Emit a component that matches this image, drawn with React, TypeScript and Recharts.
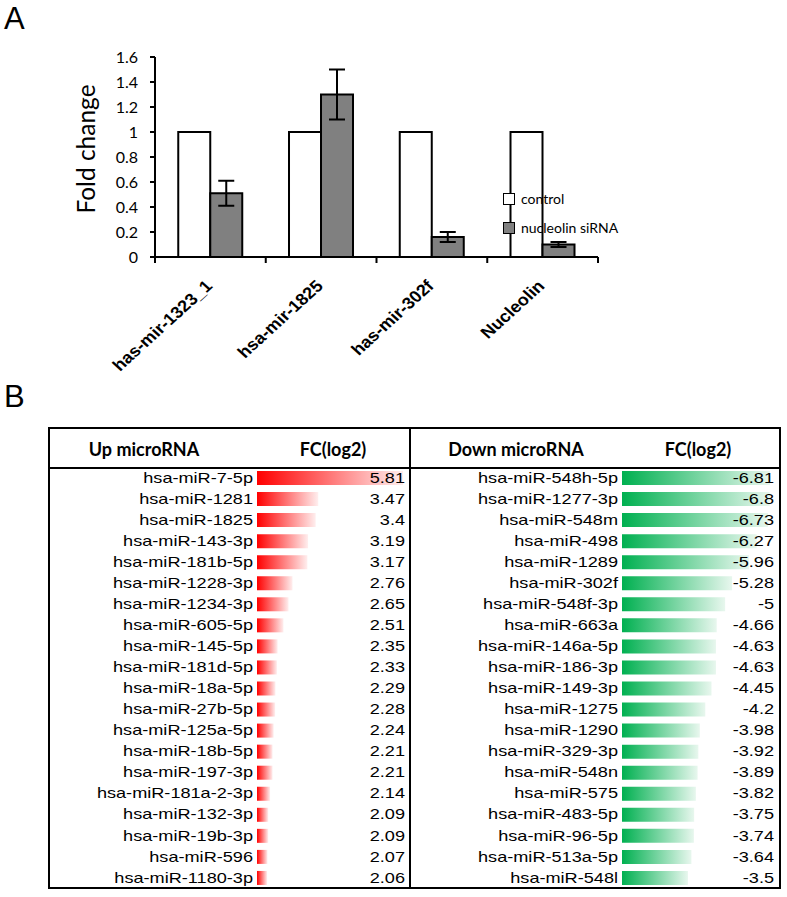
import React from 'react';
import { BarChart, Bar, XAxis, YAxis, ErrorBar, Legend } from 'recharts';

// Panel A: fold change after nucleolin knock-down
const genes = ['has-mir-1323_1', 'hsa-mir-1825', 'has-mir-302f', 'Nucleolin'];
const controlFold = [1, 1, 1, 1];
const sirnaFold = [0.51, 1.3, 0.16, 0.1];
const sirnaErr = [0.1, 0.2, 0.04, 0.02];
const foldTicks = [0, 0.2, 0.4, 0.6, 0.8, 1, 1.2, 1.4, 1.6];

// Panel B: up / down regulated microRNAs, FC(log2)
const upNames = [
  'hsa-miR-7-5p', 'hsa-miR-1281', 'hsa-miR-1825', 'hsa-miR-143-3p', 'hsa-miR-181b-5p',
  'hsa-miR-1228-3p', 'hsa-miR-1234-3p', 'hsa-miR-605-5p', 'hsa-miR-145-5p', 'hsa-miR-181d-5p',
  'hsa-miR-18a-5p', 'hsa-miR-27b-5p', 'hsa-miR-125a-5p', 'hsa-miR-18b-5p', 'hsa-miR-197-3p',
  'hsa-miR-181a-2-3p', 'hsa-miR-132-3p', 'hsa-miR-19b-3p', 'hsa-miR-596', 'hsa-miR-1180-3p',
];
const upFc = [5.81, 3.47, 3.4, 3.19, 3.17, 2.76, 2.65, 2.51, 2.35, 2.33, 2.29, 2.28, 2.24, 2.21, 2.21, 2.14, 2.09, 2.09, 2.07, 2.06];

const downNames = [
  'hsa-miR-548h-5p', 'hsa-miR-1277-3p', 'hsa-miR-548m', 'hsa-miR-498', 'hsa-miR-1289',
  'hsa-miR-302f', 'hsa-miR-548f-3p', 'hsa-miR-663a', 'hsa-miR-146a-5p', 'hsa-miR-186-3p',
  'hsa-miR-149-3p', 'hsa-miR-1275', 'hsa-miR-1290', 'hsa-miR-329-3p', 'hsa-miR-548n',
  'hsa-miR-575', 'hsa-miR-483-5p', 'hsa-miR-96-5p', 'hsa-miR-513a-5p', 'hsa-miR-548l',
];
const downFc = [-6.81, -6.8, -6.73, -6.27, -5.96, -5.28, -5, -4.66, -4.63, -4.63, -4.45, -4.2, -3.98, -3.92, -3.89, -3.82, -3.75, -3.74, -3.64, -3.5];

const foldData = genes.map((g, i) => ({ gene: g, control: controlFold[i], sirna: sirnaFold[i], err: sirnaErr[i] }));
const upData = upNames.map((n, i) => ({ name: n, fc: upFc[i] }));
const downData = downNames.map((n, i) => ({ name: n, fc: downFc[i] }));

const ARIAL = '"Liberation Sans", Arial, sans-serif';
const CALIBRI = 'Lato, "Open Sans", sans-serif';
const STRETCH = 1.25; // the source figure is a bit wider than tall
const legendFill: Record<string, string> = { control: '#ffffff', 'nucleolin siRNA': '#808080' };

// category label + boundary tick marks (Excel style)
const GeneTick = (props: any) => {
  const { x, y, payload, index } = props;
  const half = payload?.offset ?? 0;
  const tx = x + 3;
  const ty = y + 24;
  return (
    <g>
      <line x1={x + half} x2={x + half} y1={y - 6} y2={y} stroke="#000" strokeWidth={2} />
      {index === 0 && <line x1={x - half} x2={x - half} y1={y - 6} y2={y} stroke="#000" strokeWidth={2} />}
      <text transform={`translate(${tx},${ty}) scale(1.1,1) rotate(-45)`} textAnchor="end"
        fontFamily={ARIAL} fontWeight="bold" fontSize={16.5} fill="#000">
        {payload.value}
      </text>
    </g>
  );
};

const FoldLabel = (props: any) => {
  const { viewBox } = props;
  const cx = viewBox.x - 15;
  const cy = viewBox.y + viewBox.height / 2 - 8;
  return (
    <text x={cx} y={cy} transform={`rotate(-90 ${cx} ${cy})`} textAnchor="middle" dominantBaseline="central"
      fontFamily={CALIBRI} fontSize={24.5} fill="#000">
      Fold change
    </text>
  );
};

const LegendBox = (props: any) => (
  <div style={{ fontFamily: CALIBRI, fontSize: 14, color: '#000' }}>
    {(props.payload || []).map((p: any) => (
      <div key={p.value} style={{ display: 'flex', alignItems: 'center', height: 29 }}>
        <span style={{ display: 'inline-block', width: 12, height: 12, boxSizing: 'border-box', border: '1.5px solid #000', background: legendFill[p.value], marginRight: 6 }} />
        <span>{p.value}</span>
      </div>
    ))}
  </div>
);

const NameTick = (props: any) => {
  const { x, y, payload } = props;
  return (
    <text transform={`translate(${x},${y}) scale(${STRETCH},1)`} textAnchor="end" dy="0.355em"
      fontFamily={ARIAL} fontSize={14.5} fill="#000">
      {payload.value}
    </text>
  );
};

const makeValueTick = (names: string[], values: number[]) => (props: any) => {
  const { x, y, payload } = props;
  const v = values[names.indexOf(payload.value)];
  return (
    <text transform={`translate(${x + 2},${y}) scale(${STRETCH},1)`} textAnchor="end" dy="0.355em"
      fontFamily={ARIAL} fontSize={14.5} fill="#000">
      {String(v)}
    </text>
  );
};
const UpValueTick = makeValueTick(upNames, upFc);
const DownValueTick = makeValueTick(downNames, downFc);

const headerStyle: React.CSSProperties = {
  position: 'absolute', width: 200, textAlign: 'center', fontFamily: CALIBRI,
  fontWeight: 'bold', fontSize: 18, color: '#000', lineHeight: '20px',
};

export default function App() {
  return (
    <div style={{ position: 'absolute', left: 0, top: 0, width: 787, height: 897, background: '#fff' }}>
      <svg width={60} height={420} style={{ position: 'absolute', left: 0, top: 0 }}>
        <text x={4} y={29} fontFamily={ARIAL} fontSize={31} fill="#000">A</text>
        <text x={4} y={407} fontFamily={ARIAL} fontSize={31} fill="#000">B</text>
      </svg>

      <div style={{ position: 'absolute', left: 0, top: 0 }}>
        <BarChart width={640} height={390} data={foldData}
          margin={{ top: 57, right: 42, left: 100, bottom: 23 }} barCategoryGap="21%" barGap={0}>
          <XAxis dataKey="gene" height={110} interval={0} tickLine={false} tickSize={6} tickMargin={0}
            tick={<GeneTick />} axisLine={{ stroke: '#000', strokeWidth: 2 }} />
          <YAxis width={55} domain={[0, 1.6]} ticks={foldTicks} interval={0} allowDataOverflow
            tickSize={5} tickMargin={12}
            axisLine={{ stroke: '#000', strokeWidth: 2 }} tickLine={{ stroke: '#000', strokeWidth: 2 }}
            tick={{ fill: '#000', fontFamily: CALIBRI, fontSize: 16 }}
            label={<FoldLabel />} />
          <Legend layout="vertical" align="center" verticalAlign="middle"
            wrapperStyle={{ left: 503, top: 184, width: 150 }} content={<LegendBox />} />
          <Bar dataKey="control" name="control" fill="#ffffff" stroke="#000" strokeWidth={2} isAnimationActive={false} />
          <Bar dataKey="sirna" name="nucleolin siRNA" fill="#808080" stroke="#000" strokeWidth={2} isAnimationActive={false}>
            <ErrorBar dataKey="err" width={8} stroke="#000" strokeWidth={2} direction="y" />
          </Bar>
        </BarChart>
      </div>

      {/* table frame */}
      <div style={{ position: 'absolute', left: 48, top: 427, width: 733, height: 462, boxSizing: 'border-box', border: '2px solid #000' }} />
      <div style={{ position: 'absolute', left: 48, top: 467, width: 733, height: 2, background: '#000' }} />
      <div style={{ position: 'absolute', left: 409, top: 427, width: 2, height: 462, background: '#000' }} />

      <div style={{ ...headerStyle, left: 44, top: 439 }}>Up microRNA</div>
      <div style={{ ...headerStyle, left: 233, top: 439 }}>FC(log2)</div>
      <div style={{ ...headerStyle, left: 416, top: 439 }}>Down microRNA</div>
      <div style={{ ...headerStyle, left: 598, top: 439 }}>FC(log2)</div>

      <div style={{ position: 'absolute', left: 49, top: 467 }}>
        <BarChart width={359} height={421} data={upData} layout="vertical" barSize={14}
          margin={{ top: 0, right: 0, left: 0, bottom: 0 }}>
          <defs>
            <linearGradient id="upGrad" x1="0" y1="0" x2="1" y2="0">
              <stop offset="0" stopColor="#ff0000" />
              <stop offset="1" stopColor="#ffeeee" />
            </linearGradient>
          </defs>
          <XAxis type="number" domain={[1.78, 5.81]} allowDataOverflow hide />
          <YAxis yAxisId="names" type="category" dataKey="name" width={208} interval={0}
            axisLine={false} tickLine={false} tickSize={0} tickMargin={4} tick={<NameTick />} />
          <Bar yAxisId="names" dataKey="fc" fill="url(#upGrad)" isAnimationActive={false} />
          <YAxis yAxisId="vals" orientation="right" type="category" dataKey="name" width={5} interval={0}
            axisLine={false} tickLine={false} tickSize={0} tickMargin={0} tick={<UpValueTick />} />
        </BarChart>
      </div>

      <div style={{ position: 'absolute', left: 410, top: 467 }}>
        <BarChart width={369} height={421} data={downData} layout="vertical" barSize={14}
          margin={{ top: 0, right: 0, left: 0, bottom: 0 }}>
          <defs>
            <linearGradient id="downGrad" x1="0" y1="0" x2="1" y2="0">
              <stop offset="0" stopColor="#00b050" />
              <stop offset="1" stopColor="#e8f7ee" />
            </linearGradient>
          </defs>
          <XAxis type="number" domain={[-6.89, -0.84]} reversed allowDataOverflow hide />
          <YAxis yAxisId="names" type="category" dataKey="name" width={212} interval={0}
            axisLine={false} tickLine={false} tickSize={0} tickMargin={4} tick={<NameTick />} />
          <Bar yAxisId="names" dataKey="fc" fill="url(#downGrad)" isAnimationActive={false} />
          <YAxis yAxisId="vals" orientation="right" type="category" dataKey="name" width={7} interval={0}
            axisLine={false} tickLine={false} tickSize={0} tickMargin={0} tick={<DownValueTick />} />
        </BarChart>
      </div>
    </div>
  );
}
